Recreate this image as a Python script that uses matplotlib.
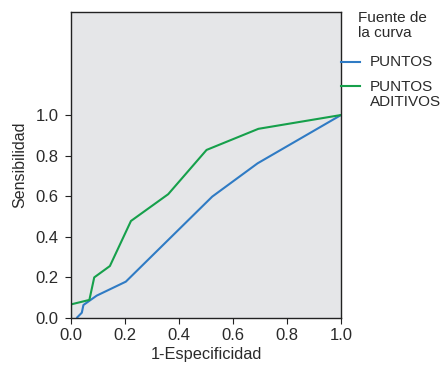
import matplotlib.pyplot as plt
from matplotlib.lines import Line2D

plt.rcParams['font.family'] = ['Liberation Sans', 'DejaVu Sans']

# curva PUNTOS
x_puntos = [0.023, 0.04, 0.046, 0.095, 0.203, 0.523, 0.691, 1.0]
y_puntos = [0.003, 0.026, 0.064, 0.11, 0.179, 0.598, 0.762, 1.0]

# curva PUNTOS ADITIVOS
x_aditivos = [0.0, 0.0, 0.068, 0.086, 0.144, 0.222, 0.36, 0.502, 0.694, 1.0]
y_aditivos = [0.003, 0.067, 0.089, 0.2, 0.256, 0.478, 0.61, 0.828, 0.932, 1.0]

ticks = [0.0, 0.2, 0.4, 0.6, 0.8, 1.0]
azul = '#2f7bc4'
verde = '#16a04b'
texto = '#2a2a2a'

fig = plt.figure(figsize=(4.43, 3.65), dpi=100)
ax = fig.add_axes([0.1603, 0.1288, 0.6095, 0.838])
ax.set_facecolor('#e5e6e8')

ax.plot(x_puntos, y_puntos, color=azul, lw=1.5)
ax.plot(x_aditivos, y_aditivos, color=verde, lw=1.5)

ax.set_xlim(0, 1)
ax.set_ylim(0, 1.507)
ax.set_xticks(ticks)
ax.set_yticks(ticks)
ax.set_xticklabels([f'{t:.1f}' for t in ticks], fontsize=12, color=texto)
ax.set_yticklabels([f'{t:.1f}' for t in ticks], fontsize=12, color=texto)
ax.tick_params(direction='out', length=4, width=0.8, color='#222222')
ax.tick_params(axis='y', pad=5)
ax.tick_params(axis='x', pad=3)
for s in ax.spines.values():
    s.set_linewidth(1.0)
    s.set_color('#222222')

ax.set_xlabel('1-Especificidad', fontsize=11.8, labelpad=3, color=texto)
ax.set_ylabel('Sensibilidad', fontsize=11.5, labelpad=6, color=texto)

# leyenda manual
fig.text(358 / 443, 1 - 11 / 365, 'Fuente de\nla curva', fontsize=11,
         va='top', ha='left', linespacing=1.12, color=texto)
for yy, col in [(62, azul), (86, verde)]:
    fig.add_artist(Line2D([341 / 443, 360 / 443], [1 - yy / 365] * 2,
                          color=col, lw=1.5, transform=fig.transFigure))
fig.text(370 / 443, 1 - 62 / 365, 'PUNTOS', fontsize=11, va='center',
         ha='left', color=texto)
fig.text(370 / 443, 1 - 80 / 365, 'PUNTOS\nADITIVOS', fontsize=11,
         va='top', ha='left', linespacing=1.12, color=texto)

fig.savefig('out.png', dpi=100)
